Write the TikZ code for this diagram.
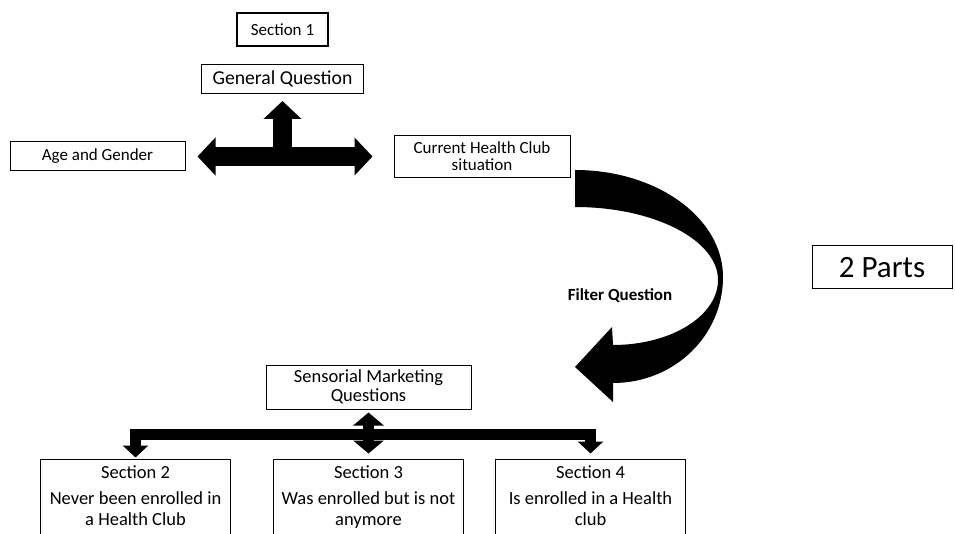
\documentclass[tikz,border=0pt]{standalone}
\usepackage{fontspec}
\setmainfont{Carlito}
\usetikzlibrary{arrows.meta,positioning,calc}

\newcommand\sectext[3]{\parbox[t][95pt][t]{190pt}{\centering #1\\[5pt]#2\\#3}}

\tikzset{
  box/.style={draw, line width=1pt, inner sep=0pt, align=center},
  small/.style={font=\fontsize{17}{17}\selectfont},
  mid/.style={font=\fontsize{18.5}{21}\selectfont},
  fat/.style={line width=19pt, >={Triangle[length=18pt,width=37pt]}},
  elbow/.style={line width=11pt, >={Triangle[length=12pt,width=25pt]}},
  secbox/.style={draw, line width=1pt, mid, inner xsep=0pt, inner ysep=7pt}
}

\begin{document}
\begin{tikzpicture}[x=1pt,y=-1pt]
\clip (0,0) rectangle (955,534);
\node [box, small, line width=2pt, minimum width=91pt, minimum height=33pt] (sec1) at (282.5,29.5) {Section 1};
\node [box, font=\fontsize{19.7}{20}\selectfont, minimum width=162pt, minimum height=29pt] (general) [below=17pt of sec1] {General Question};
\node [box, small, minimum width=175pt, minimum height=29pt] (age) at (97.5,156.5) {Age and Gender};
\node [box, small, minimum width=176pt, minimum height=42pt] (current) [right=208pt of age] {Current Health Club\\situation};
\node [box, font=\fontsize{18.5}{18.5}\selectfont, minimum width=205pt, minimum height=44pt] (sensorial) at (368.5,387) {Sensorial Marketing\\Questions};
\node [secbox] (sec3) [below=49pt of sensorial] {\sectext{Section 3}{Was enrolled but is not}{anymore}};
\node [secbox] (sec2) [left=42pt of sec3] {\sectext{Section 2}{Never been enrolled in}{a Health Club}};
\node [secbox] (sec4) [right=31pt of sec3] {\sectext{Section 4}{Is enrolled in a Health}{club}};
\node [box, font=\fontsize{31}{31}\selectfont, minimum width=140pt, minimum height=43pt] (parts) at (882,267.5) {2 Parts};
\node [font=\bfseries\fontsize{17}{17}\selectfont] (filter) at (620,296) {Filter Question};

\draw [fat, <->, shorten <=12pt, shorten >=21pt] (age.east) -- (current.west);
\draw [fat, ->, shorten >=7pt] (general.south |- age.east) -- (general.south);

\fill (575,170) .. controls (657,170) and (723,218) .. (723,277)
  .. controls (723,336) and (674,383) .. (613,383)
  -- (613,402) -- (575,367) -- (612,327) -- (613,345)
  .. controls (671,345) and (718,316) .. (718,280)
  .. controls (718,240) and (654,207) .. (575,207) -- cycle;

\coordinate (bar) at ($(sensorial.south)!0.5!(sec3.north)$);
\draw [elbow, ->, shorten >=1pt] (bar) -| (sec2.north);
\draw [elbow, ->, shorten >=5pt] (bar) -| (sec4.north);
\draw [elbow, <->, >={Triangle[length=13pt,width=30pt]}, shorten <=3pt, shorten >=5pt] (sensorial.south) -- (sec3.north);
\end{tikzpicture}
\end{document}
